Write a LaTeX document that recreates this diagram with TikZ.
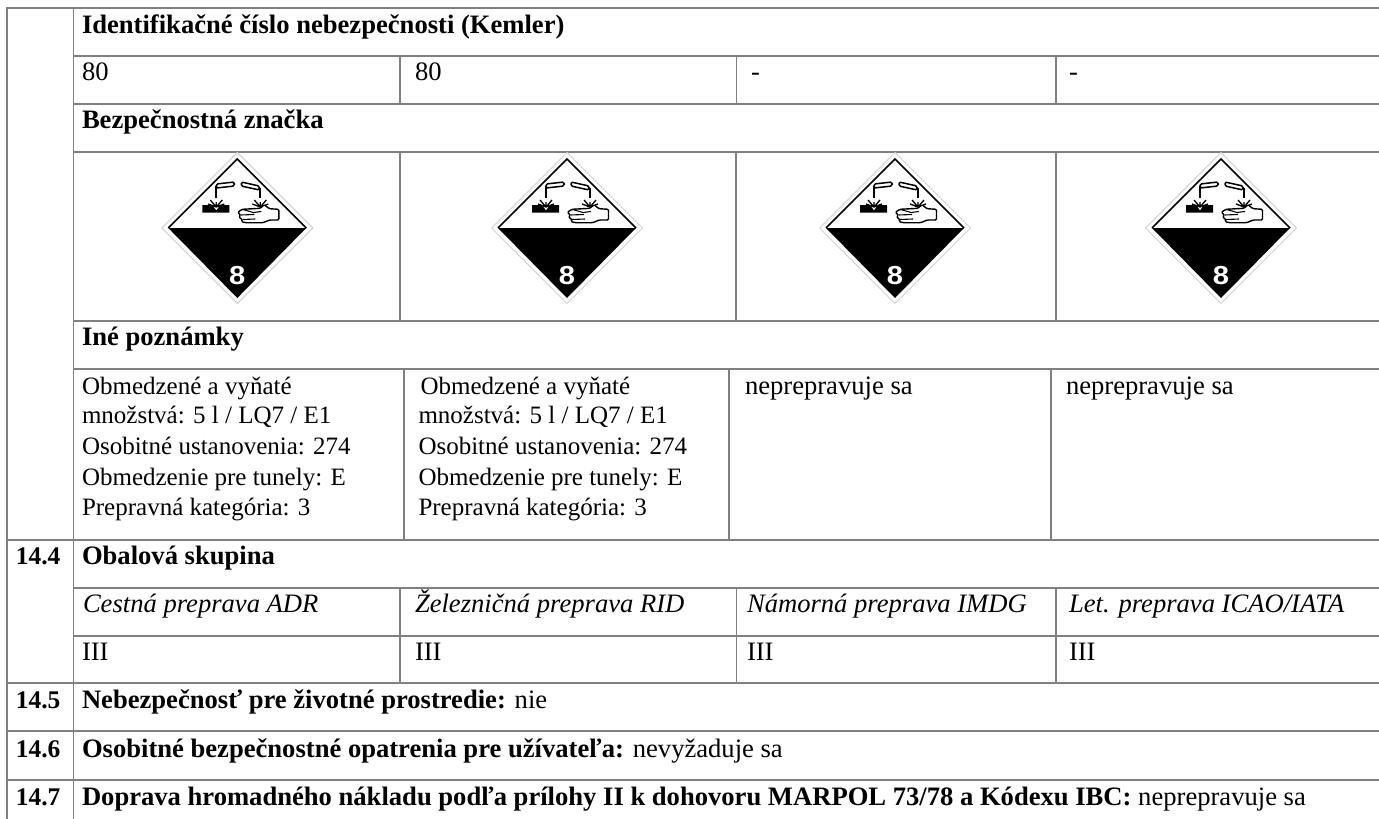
\documentclass[tikz,border=0pt]{standalone}
\usepackage{fontspec}
\setmainfont{Liberation Serif}
\newfontfamily\signfont[FakeStretch=1.12]{Liberation Sans}
\newcommand{\tabfont}{\fontsize{26.6}{30}\selectfont}
\newcommand{\notefont}{\fontsize{25}{30}\selectfont}
\tikzset{
  gridline/.style={draw=gray,line width=1.5pt},
  cell/.style={anchor=base west,inner sep=0pt,outer sep=0pt,font=\tabfont,text=black},
  bcell/.style={cell,font=\tabfont\bfseries},
  icell/.style={cell,font=\tabfont\itshape},
  notecell/.style={cell,font=\notefont},
  numcell/.style={cell,font=\fontsize{25.4}{30}\selectfont\bfseries},
}
\newcommand{\placard}[2]{%
  \begin{scope}[shift={(#2,228)}]
    \draw[gray!35,line width=1pt] (0,-75.5)--(75.5,0)--(0,75.5)--(-75.5,0)--cycle;
    \fill[black] (-69,0)--(69,0)--(0,70)--cycle;
    \draw[black,line width=1.6pt,line join=miter] (-69,0)--(0,-69)--(69,0);
    % left tube and drip
    \draw[black,line width=1.5pt,rounded corners=1.5pt] (-21,-44)--(-3,-46)--(-3,-42)--(-21,-40)--cycle;
    \draw[black,line width=2pt] (-21.5,-42)--(-21.5,-30);
    \fill[black] (-35,-23)--(-25,-23)--(-21,-17.5)--(-17,-23)--(-8,-23)--(-8,-15.5)--(-35,-15.5)--cycle;
    \draw[black,line width=1.3pt] (-21,-21)--(-27,-28) (-21,-21)--(-29,-24) (-21,-21)--(-15,-28) (-21,-21)--(-13,-24) (-21,-21)--(-21,-26);
    % right tube and drip
    \draw[black,line width=1.5pt,rounded corners=1.5pt] (4,-46)--(22,-42)--(22,-38)--(4,-42)--cycle;
    \draw[black,line width=2pt] (22.5,-40)--(22.5,-30);
    \draw[black,line width=1.3pt] (23,-21)--(17,-28) (23,-21)--(15,-24) (23,-21)--(29,-28) (23,-21)--(31,-24) (23,-21)--(23,-26);
    % hand
    \draw[black,fill=white,line width=1.4pt,line join=round,rounded corners=1.2pt]
      (41.5,-18.7)--(32,-19.3)--(27,-23.3)--(23,-19.7)--(5,-18.7)--(0.3,-15.7)--(3.5,-13)--(1.5,-11)--(5,-8.5)--(4,-6.5)--(8,-5.3)--(25.7,-5.3)--(32.3,-8)--(41.5,-8)--cycle;
    \draw[black,line width=1.1pt] (3.5,-13)--(17,-13.5) (5,-8.5)--(18,-9) (5,-18.7)--(16,-15.5)--(24,-16.5);
    \node[name=#1,inner sep=0pt,text=white,font=\fontsize{26}{26}\selectfont\signfont\bfseries] at (0,47.5) {8};
  \end{scope}}
\begin{document}
\begin{tikzpicture}[x=1pt,y=-1pt]
\useasboundingbox (0,0) rectangle (1379,819);
\fill[white] (0,0) rectangle (1379,819);
% horizontal rules
\draw[gridline] (7,8)--(1379,8);
\draw[gridline] (73.5,56)--(1379,56) (73.5,104)--(1379,104) (73.5,152)--(1379,152) (73.5,321)--(1379,321) (73.5,369)--(1379,369);
\draw[gridline] (7,540)--(1379,540);
\draw[gridline] (73.5,588)--(1379,588) (73.5,636)--(1379,636);
\draw[gridline] (7,683)--(1379,683) (7,731)--(1379,731) (7,780)--(1379,780);
% vertical rules
\draw[gridline] (7,7.25)--(7,819) (73.5,7.25)--(73.5,819);
\draw[gridline] (400,56)--(400,104) (736.5,56)--(736.5,104) (1056,56)--(1056,104);
\draw[gridline] (400,152)--(400,321) (736,152)--(736,321) (1056,152)--(1056,321);
\draw[gridline] (404,369)--(404,540) (729,369)--(729,540) (1051,369)--(1051,540);
\draw[gridline] (400,588)--(400,683) (736.5,588)--(736.5,683) (1056,588)--(1056,683);
% placards
\placard{signA}{237.3}
\placard{signB}{567}
\placard{signC}{895}
\placard{signD}{1221}
% text
\node[bcell] (kemler) at (82,33) {Identifikačné číslo nebezpečnosti (Kemler)};
\node[cell] (kA) at (82,80) {80};
\node[cell] (kB) at (415,80) {80};
\node[cell] (kC) at (751,80) {-};
\node[cell] (kD) at (1069,80) {-};
\node[bcell] (znacka) at (82,128) {Bezpečnostná značka};
\node[bcell] (ine) at (82,345) {Iné poznámky};
\node[notecell] (noteAa) at (82,394) {Obmedzené a vyňaté};
\node[notecell] (noteAb) at (82,423.5) {množstvá: 5 l / LQ7 / E1};
\node[notecell] (noteAc) at (82,454) {Osobitné ustanovenia: 274};
\node[notecell] (noteAd) at (82,485) {Obmedzenie pre tunely: E};
\node[notecell] (noteAe) at (82,515) {Prepravná kategória: 3};
\node[notecell] (noteBa) at (420.5,394) {Obmedzené a vyňaté};
\node[notecell] (noteBb) at (418.5,423.5) {množstvá: 5 l / LQ7 / E1};
\node[notecell] (noteBc) at (418.5,454) {Osobitné ustanovenia: 274};
\node[notecell] (noteBd) at (418.5,485) {Obmedzenie pre tunely: E};
\node[notecell] (noteBe) at (418.5,515) {Prepravná kategória: 3};
\node[cell] (noteC) at (745,394) {neprepravuje sa};
\node[cell] (noteD) at (1066,394) {neprepravuje sa};
\node[numcell] (n144) at (16,564) {14.4};
\node[bcell] (obal) at (82,564) {Obalová skupina};
\node[icell] (modeA) at (83,612) {Cestná preprava ADR};
\node[icell] (modeB) at (415,612) {Železničná preprava RID};
\node[icell] (modeC) at (747,612) {Námorná preprava IMDG};
\node[icell] (modeD) at (1069,612) {Let. preprava ICAO/IATA};
\node[cell] (gA) at (82,660) {III};
\node[cell] (gB) at (415,660) {III};
\node[cell] (gC) at (747,660) {III};
\node[cell] (gD) at (1069,660) {III};
\node[numcell] (n145) at (16,708) {14.5};
\node[cell] (t145) at (82,708) {\textbf{Nebezpečnosť pre životné prostredie:} nie};
\node[numcell] (n146) at (16,757) {14.6};
\node[cell] (t146) at (82,757) {\textbf{Osobitné bezpečnostné opatrenia pre užívateľa:} nevyžaduje sa};
\node[numcell] (n147) at (16,805) {14.7};
\node[cell] (t147) at (82,805) {\textbf{Doprava hromadného nákladu podľa prílohy II k dohovoru MARPOL 73/78 a Kódexu IBC:} neprepravuje sa};
\end{tikzpicture}
\end{document}
